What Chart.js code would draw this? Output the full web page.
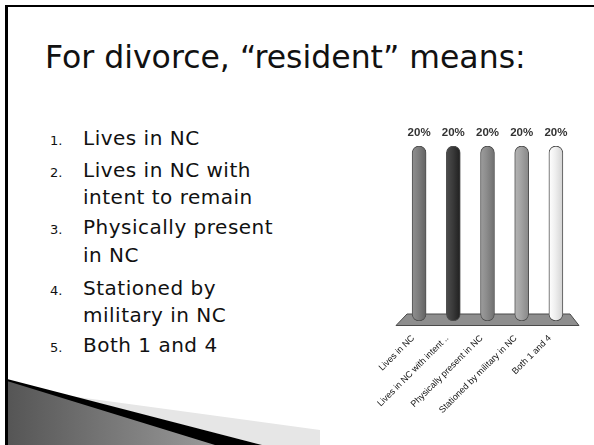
<!DOCTYPE html>
<html>
<head>
<meta charset="utf-8">
<script src="https://cdn.jsdelivr.net/npm/chart.js@4/dist/chart.umd.min.js"></script>
<style>
  html, body { margin: 0; padding: 0; }
  body { width: 594px; height: 445px; overflow: hidden; background: #fff; position: relative; font-family: "DejaVu Sans", sans-serif; color: #111; }
  .frameTop { position: absolute; left: 5px; top: 5px; width: 589px; height: 2px; background: #000; }
  .frameLeft { position: absolute; left: 5px; top: 5px; width: 3px; height: 440px; background: #000; }
  .title { position: absolute; left: 45px; top: 37px; font-size: 31.5px; line-height: 40px; white-space: nowrap; }
  .line { position: absolute; left: 83px; font-size: 20px; line-height: 26px; letter-spacing: 0.5px; white-space: nowrap; }
  .num { display: inline-block; width: 33px; margin-left: -33px; font-size: 13px; letter-spacing: 0; }
  #deco { position: absolute; left: 0; top: 0; }
  #wrap { position: absolute; left: 330px; top: 100px; width: 264px; height: 345px; }
</style>
</head>
<body>
<svg id="deco" width="594" height="445">
  <defs>
    <linearGradient id="g1" x1="0" y1="0" x2="1" y2="0">
      <stop offset="0" stop-color="#555"/>
      <stop offset="1" stop-color="#9a9a9a"/>
    </linearGradient>
  </defs>
  <polygon points="70,396 320,430 320,445 262,445" fill="#e6e6e6"/>
  <polygon points="7,379 262,445 7,445" fill="#000"/>
  <polygon points="7,381 215,445 7,445" fill="url(#g1)"/>
</svg>
<div class="frameTop"></div>
<div class="frameLeft"></div>
<div class="title">For divorce, “resident” means:</div>
<div class="line" style="top:125px"><span class="num">1.</span>Lives in NC</div>
<div class="line" style="top:157px"><span class="num">2.</span>Lives in NC with</div>
<div class="line" style="top:184px">intent to remain</div>
<div class="line" style="top:214px"><span class="num">3.</span>Physically present</div>
<div class="line" style="top:242px">in NC</div>
<div class="line" style="top:275px"><span class="num">4.</span>Stationed by</div>
<div class="line" style="top:302px">military in NC</div>
<div class="line" style="top:332px"><span class="num">5.</span>Both 1 and 4</div>
<div id="wrap"><canvas id="chart" width="264" height="345"></canvas></div>
<script>
// answer choices and their shares
const choices = ['Lives in NC', 'Lives in NC with intent ..', 'Physically present in NC', 'Stationed by military in NC', 'Both 1 and 4'];
const shares = [20, 20, 20, 20, 20];
const barColors = ['#7e7e7e', '#3b3b3b', '#8b8b8b', '#a3a3a3', '#efefef'];

function shade(hex, amt) {
    const n = parseInt(hex.slice(1), 16);
    const c = [n >> 16, (n >> 8) & 255, n & 255].map(v => Math.max(0, Math.min(255, v + amt)));
    return `rgb(${c[0]},${c[1]},${c[2]})`;
}

// grey floor under the columns
const floorPlugin = {
    id: 'floor',
    beforeDatasetsDraw(chart) {
        const a = chart.chartArea, ctx = chart.ctx;
        ctx.save();
        ctx.beginPath();
        ctx.moveTo(a.left + 5, a.bottom - 7);
        ctx.lineTo(a.right - 3, a.bottom - 7);
        ctx.lineTo(a.right + 6, a.bottom + 4.5);
        ctx.lineTo(a.left - 6, a.bottom + 4.5);
        ctx.closePath();
        ctx.fillStyle = '#8e8e8e';
        ctx.fill();
        ctx.strokeStyle = '#4a4a4a';
        ctx.lineWidth = 1;
        ctx.stroke();
        ctx.restore();
    }
};

// percent labels above the columns
const valueLabels = {
    id: 'valueLabels',
    afterDatasetsDraw(chart) {
        const ctx = chart.ctx;
        ctx.save();
        ctx.font = 'bold 11.5px "Liberation Sans", sans-serif';
        ctx.fillStyle = '#333';
        ctx.textAlign = 'center';
        ctx.textBaseline = 'middle';
        chart.getDatasetMeta(0).data.forEach((bar, i) => {
            ctx.fillText(shares[i] + '%', bar.x, bar.y - 13);
        });
        ctx.restore();
    }
};

new Chart(document.getElementById('chart'), {
    type: 'bar',
    data: {
        labels: choices,
        datasets: [{
            data: shares,
            backgroundColor(c) {
                const chart = c.chart;
                if (!chart.chartArea) return barColors[c.dataIndex];
                const x = chart.scales.x.getPixelForValue(c.dataIndex);
                const g = chart.ctx.createLinearGradient(x - 7, 0, x + 7, 0);
                const base = barColors[c.dataIndex];
                g.addColorStop(0, shade(base, 18));
                g.addColorStop(0.45, base);
                g.addColorStop(1, shade(base, -28));
                return g;
            },
            borderColor: '#505050',
            borderWidth: 1,
            borderSkipped: false,
            borderRadius: 7,
            barThickness: 14
        }]
    },
    options: {
        responsive: false,
        animation: false,
        layout: { padding: { left: 72, right: 21, top: 46, bottom: 0 } },
        plugins: { legend: { display: false }, tooltip: { enabled: false } },
        scales: {
            x: {
                grid: { display: false, drawTicks: false },
                border: { display: false },
                ticks: {
                    autoSkip: false,
                    minRotation: 45,
                    maxRotation: 45,
                    padding: 12,
                    labelOffset: -6,
                    color: '#111',
                    font: { family: '"Liberation Sans", sans-serif', size: 9 }
                },
                afterFit(scale) { scale.height = 124; }
            },
            y: { display: false, min: 0, max: 20 }
        }
    },
    plugins: [floorPlugin, valueLabels]
});
</script>
</body>
</html>
